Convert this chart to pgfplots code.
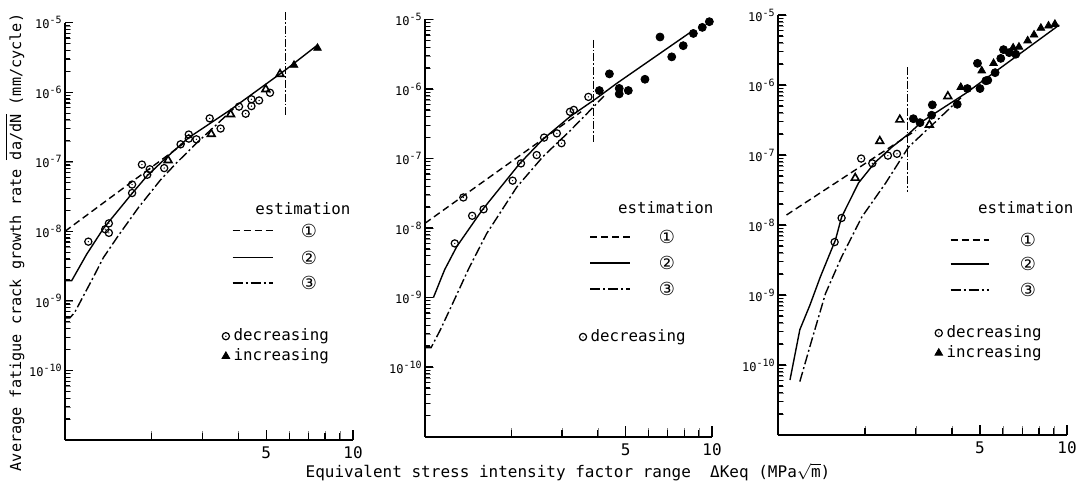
\documentclass[border=0pt]{standalone}
\usepackage{fontspec}
\setmainfont{DejaVu Sans Mono}
\newfontfamily\sym{DejaVu Sans}
\usepackage{pgfplots}
\pgfplotsset{compat=1.18}

% open circle with a dot in it
\pgfdeclareplotmark{odot}{%
  \pgfpathcircle{\pgfpointorigin}{\pgfplotmarksize}\pgfusepathqstroke
  \pgfpathcircle{\pgfpointorigin}{0.35pt}\pgfusepathqfill}

\pgfplotsset{
  mylegend/.style={anchor=west, draw=none, fill=none, inner sep=0pt,
      font=\fontsize{7.9}{8}\selectfont, row sep=-1.5pt},
  myestA/.style={black, line width=0.7pt, dash pattern=on 3.5pt off 2pt},
  myestB/.style={black, line width=0.7pt},
  myestC/.style={black, line width=0.7pt, dash pattern=on 5pt off 1.5pt on 1pt off 1.5pt},
  myvline/.style={black, line width=0.5pt, dash pattern=on 4pt off 1pt on 0.8pt off 1pt},
  mydec/.style={only marks, mark=odot, mark size=1.8pt, mark options={line width=0.6pt}},
  myincopen/.style={only marks, mark=triangle, mark size=2.2pt, mark options={line width=0.8pt}},
  myincfill/.style={only marks, mark=triangle*, mark size=2.2pt, mark options={fill=black}},
  myfull/.style={only marks, mark=*, mark size=2pt, mark options={fill=black}},
}
\tikzset{tickline/.style={black, line width=0.6pt}}

\def\ylabs{{},10\textsuperscript{-10},10\textsuperscript{-9},10\textsuperscript{-8},10\textsuperscript{-7},10\textsuperscript{-6},10\textsuperscript{-5}}

% tick marks along the left and bottom axis lines
\newcommand{\drawticks}{%
  \pgfplotsforeachungrouped \te in {-10,-9,-8,-7,-6,-5}{%
    \edef\tmp{\noexpand\draw[tickline] (axis cs:1,1e\te) -- (axis cs:1.066,1e\te);}\tmp}%
  \pgfplotsforeachungrouped \te in {-11,-10,-9,-8,-7,-6}{%
    \pgfplotsforeachungrouped \tm in {2,3,4,5,6,7,8,9}{%
      \edef\tmp{\noexpand\draw[tickline] (axis cs:1,\tm e\te) -- (axis cs:1.039,\tm e\te);}\tmp}}%
  \pgfplotsforeachungrouped \tx in {2,3,4,6,7,8,9}{%
    \edef\tmp{\noexpand\draw[tickline] (axis cs:\tx,1e-11) -- (axis cs:\tx,1.26e-11);}\tmp}%
  \pgfplotsforeachungrouped \tx in {5,10}{%
    \edef\tmp{\noexpand\draw[tickline] (axis cs:\tx,1e-11) -- (axis cs:\tx,1.4e-11);}\tmp}%
}

\begin{document}
\begin{tikzpicture}
\useasboundingbox (0,0) rectangle (540.5pt,242.5pt);

% ---------- panel 1
\begin{axis}[at={(32.5pt,22.5pt)}, anchor=south west, width=144pt, height=208.7pt,
  xmode=log, ymode=log, scale only axis, clip=false,
  xmin=1, xmax=10, ymin=1e-11, ymax=1e-5,
  axis lines=left, axis line style={-, line width=1pt},
  tick align=inside,
  xtick={2,3,4,5,6,7,8,9,10}, xticklabels={,,,5,,,,,10},
  ytickten={-11,-10,-9,-8,-7,-6,-5}, yticklabels/.expand once=\ylabs,
  yticklabel style={font=\fontsize{6}{6}\selectfont, inner sep=1pt},
  xticklabel style={font=\fontsize{8}{8}\selectfont},
  legend cell align=left,
  legend image code/.code={\draw[mark repeat=2,mark phase=2] plot coordinates {(0pt,0pt)(3pt,0pt)(6pt,0pt)};},
  legend style={mylegend, at={(axis description cs:0.544,0.2247)}}]
\addplot[mydec] coordinates {(1.205,7.1e-9) (1.38,1.07e-8) (1.42,1.3e-8) (1.42,9.5e-9)
  (1.71,3.55e-8) (1.71,4.7e-8) (1.85,9.1e-8) (1.93,6.5e-8) (1.97,7.8e-8) (2.21,8.1e-8)
  (2.52,1.78e-7) (2.69,2.46e-7) (2.69,2.15e-7) (2.86,2.1e-7) (3.18,4.2e-7) (3.47,3.0e-7)
  (4.02,6.2e-7) (4.24,4.9e-7) (4.44,7.9e-7) (4.44,6.3e-7) (4.72,7.6e-7) (5.15,9.8e-7)};
\addlegendentry{decreasing}
\addplot[myincfill] coordinates {(6.24,2.45e-6) (7.53,4.3e-6)};
\addlegendentry{increasing}
\addplot[myincopen, forget plot] coordinates {(2.28,1.05e-7) (3.22,2.5e-7) (3.76,4.8e-7) (4.98,1.1e-6) (5.58,1.82e-6)};
\addplot[myestA, forget plot] coordinates {(1.0,1.0e-8) (2.6,1.87e-7)};
\addplot[myestB, forget plot] coordinates {(1.0,1.95e-9) (1.055,1.95e-9) (1.19,4.7e-9) (1.36,1.1e-8)
  (1.71,3.5e-8) (1.93,6.3e-8) (2.26,1.17e-7) (2.68,2.2e-7) (3.76,5.6e-7) (5.84,2.1e-6) (7.55,4.8e-6)};
\addplot[myestC, forget plot] coordinates {(1.0,5.7e-10) (1.04,5.7e-10) (1.08,6.8e-10) (1.255,2.2e-9)
  (1.36,4.2e-9) (1.53,8.6e-9) (1.80,2.2e-8) (2.14,5.4e-8) (2.42,9.3e-8) (2.88,1.9e-7) (3.38,3.5e-7) (3.85,5.8e-7)};
\addplot[myvline, forget plot] coordinates {(5.84,1.42e-5) (5.84,4.4e-7)};
% key of the estimation lines
\addplot[myestA, forget plot] coordinates {(3.82,1.02e-8) (5.26,1.02e-8)};
\addplot[myestB, forget plot] coordinates {(3.82,4.2e-9) (5.26,4.2e-9)};
\addplot[myestC, forget plot] coordinates {(3.82,1.8e-9) (5.26,1.8e-9)};
\node[font=\fontsize{7.9}{8}\selectfont] at (axis cs:6.70,2.12e-8) {estimation};
\node[font=\sym\fontsize{9}{9}\selectfont] at (axis cs:7.03,1.02e-8) {①};
\node[font=\sym\fontsize{9}{9}\selectfont] at (axis cs:7.03,4.2e-9) {②};
\node[font=\sym\fontsize{9}{9}\selectfont] at (axis cs:7.03,1.8e-9) {③};
\drawticks
\end{axis}

% ---------- panel 2
\begin{axis}[at={(212.5pt,24.25pt)}, anchor=south west, width=143.5pt, height=208.5pt,
  xmode=log, ymode=log, scale only axis, clip=false,
  xmin=1, xmax=10, ymin=1e-11, ymax=1e-5,
  axis lines=left, axis line style={-, line width=1pt},
  tick align=inside,
  xtick={2,3,4,5,6,7,8,9,10}, xticklabels={,,,5,,,,,10},
  ytickten={-11,-10,-9,-8,-7,-6,-5}, yticklabels/.expand once=\ylabs,
  yticklabel style={font=\fontsize{6}{6}\selectfont, inner sep=1pt},
  xticklabel style={font=\fontsize{8}{8}\selectfont},
  legend cell align=left,
  legend image code/.code={\draw[mark repeat=2,mark phase=2] plot coordinates {(0pt,0pt)(3pt,0pt)(6pt,0pt)};},
  legend style={mylegend, at={(axis description cs:0.5366,0.2387)}}]
\addplot[mydec] coordinates {(1.27,6.0e-9) (1.36,2.75e-8) (1.46,1.5e-8) (1.60,1.86e-8)
  (2.02,4.8e-8) (2.16,8.5e-8) (2.45,1.12e-7) (2.60,2.0e-7) (2.88,2.3e-7) (2.99,1.66e-7)
  (3.20,4.7e-7) (3.30,5.0e-7) (3.71,7.7e-7)};
\addlegendentry{decreasing}
\addplot[myfull, forget plot] coordinates {(4.05,9.5e-7) (4.39,1.65e-6) (4.75,1.02e-6) (4.75,8.5e-7)
  (5.11,9.5e-7) (5.84,1.38e-6) (6.59,5.6e-6) (7.24,2.9e-6) (7.94,4.2e-6) (8.61,6.3e-6)
  (9.25,7.7e-6) (9.79,9.3e-6)};
\addplot[myestA, forget plot] coordinates {(1.0,1.17e-8) (3.5,4.7e-7)};
\addplot[myestB, forget plot] coordinates {(1.07,1.0e-9) (1.17,2.5e-9) (1.29,5.4e-9) (1.58,1.8e-8)
  (2.14,8.5e-8) (2.58,1.9e-7) (3.20,4.0e-7) (3.97,7.4e-7) (4.65,1.2e-6) (8.61,7.0e-6)};
\addplot[myestC, forget plot] coordinates {(1.0,1.9e-10) (1.05,1.9e-10) (1.13,3.4e-10) (1.25,8.3e-10)
  (1.42,2.6e-9) (1.64,8.3e-9) (2.09,3.9e-8) (2.58,1.07e-7) (3.20,2.5e-7) (3.7,4.6e-7) (4.2,7.9e-7)};
\addplot[myvline, forget plot] coordinates {(3.88,5.1e-6) (3.88,1.74e-7)};
\addplot[myestA, forget plot] coordinates {(3.76,7.4e-9) (5.17,7.4e-9)};
\addplot[myestB, forget plot] coordinates {(3.76,3.13e-9) (5.17,3.13e-9)};
\addplot[myestC, forget plot] coordinates {(3.76,1.32e-9) (5.17,1.32e-9)};
\node[font=\fontsize{7.9}{8}\selectfont] at (axis cs:6.9,1.94e-8) {estimation};
\node[font=\sym\fontsize{9}{9}\selectfont] at (axis cs:6.97,7.4e-9) {①};
\node[font=\sym\fontsize{9}{9}\selectfont] at (axis cs:6.97,3.13e-9) {②};
\node[font=\sym\fontsize{9}{9}\selectfont] at (axis cs:6.97,1.32e-9) {③};
\drawticks
\end{axis}

% ---------- panel 3
\begin{axis}[at={(389pt,25pt)}, anchor=south west, width=144.5pt, height=210pt,
  xmode=log, ymode=log, scale only axis, clip=false,
  xmin=1, xmax=10, ymin=1e-11, ymax=1e-5,
  axis lines=left, axis line style={-, line width=1pt},
  tick align=inside,
  xtick={2,3,4,5,6,7,8,9,10}, xticklabels={,,,5,,,,,10},
  ytickten={-11,-10,-9,-8,-7,-6,-5}, yticklabels/.expand once=\ylabs,
  yticklabel style={font=\fontsize{6}{6}\selectfont, inner sep=1pt},
  xticklabel style={font=\fontsize{8}{8}\selectfont},
  legend cell align=left,
  legend image code/.code={\draw[mark repeat=2,mark phase=2] plot coordinates {(0pt,0pt)(3pt,0pt)(6pt,0pt)};},
  legend style={mylegend, at={(axis description cs:0.5417,0.219)}}]
\addplot[mydec] coordinates {(1.57,5.7e-9) (1.66,1.26e-8) (1.94,8.9e-8) (2.12,7.6e-8) (2.40,9.8e-8) (2.58,1.04e-7)};
\addlegendentry{decreasing}
\addplot[myincfill] coordinates {(4.29,9.3e-7) (5.07,1.6e-6) (5.57,2.04e-6) (6.51,3.4e-6) (6.82,3.5e-6)
  (7.31,4.3e-6) (7.69,5.2e-6) (8.12,6.5e-6) (8.63,7.0e-6) (9.08,7.4e-6)};
\addlegendentry{increasing}
\addplot[myincopen, forget plot] coordinates {(1.85,4.7e-8) (2.25,1.58e-7) (2.64,3.2e-7) (3.34,2.7e-7) (3.87,6.9e-7)};
\addplot[myfull, forget plot] coordinates {(2.94,3.3e-7) (3.10,2.9e-7) (3.40,3.7e-7) (3.42,5.2e-7)
  (4.17,5.3e-7) (4.52,8.9e-7) (5.00,8.9e-7) (4.90,2.04e-6) (5.24,1.15e-6) (5.32,1.17e-6)
  (5.64,1.5e-6) (5.90,2.4e-6) (6.03,3.2e-6) (6.31,2.9e-6) (6.65,2.75e-6)};
\addplot[myestA, forget plot] coordinates {(1.07,1.39e-8) (3.0,2.25e-7)};
\addplot[myestB, forget plot] coordinates {(1.10,6.1e-11) (1.19,3.2e-10) (1.29,7.2e-10) (1.40,1.8e-9)
  (1.58,6.1e-9) (1.66,1.3e-8) (1.90,4.0e-8) (2.17,7.9e-8) (2.48,1.3e-7) (2.83,2.0e-7) (3.15,3.0e-7)
  (4.46,7.6e-7) (9.40,7.2e-6)};
\addplot[myestC, forget plot] coordinates {(1.19,5.8e-11) (1.31,2.3e-10) (1.46,1.05e-9) (1.66,3.5e-9)
  (1.95,1.3e-8) (2.36,4.0e-8) (2.83,1.3e-7) (3.42,2.7e-7) (4.3,6.6e-7)};
\addplot[myvline, forget plot] coordinates {(2.81,1.8e-6) (2.81,3.0e-8)};
\addplot[myestA, forget plot] coordinates {(3.96,6.1e-9) (5.36,6.1e-9)};
\addplot[myestB, forget plot] coordinates {(3.96,2.77e-9) (5.36,2.77e-9)};
\addplot[myestC, forget plot] coordinates {(3.96,1.18e-9) (5.36,1.18e-9)};
\node[font=\fontsize{7.9}{8}\selectfont] at (axis cs:7.2,1.75e-8) {estimation};
\node[font=\sym\fontsize{9}{9}\selectfont] at (axis cs:7.32,6.1e-9) {①};
\node[font=\sym\fontsize{9}{9}\selectfont] at (axis cs:7.32,2.77e-9) {②};
\node[font=\sym\fontsize{9}{9}\selectfont] at (axis cs:7.32,1.18e-9) {③};
\drawticks
\end{axis}

\node[rotate=90, font=\fontsize{7.6}{8}\selectfont] at (7.5pt,121.25pt)
  {Average fatigue crack growth rate $\overline{\hbox{da/dN}}$ (mm/cycle)};
\node[font=\fontsize{8}{8}\selectfont] at (284pt,6.5pt)
  {Equivalent stress intensity factor range\ \ ΔKeq (MPa$\sqrt{\hbox{m}}$)};
\end{tikzpicture}
\end{document}
